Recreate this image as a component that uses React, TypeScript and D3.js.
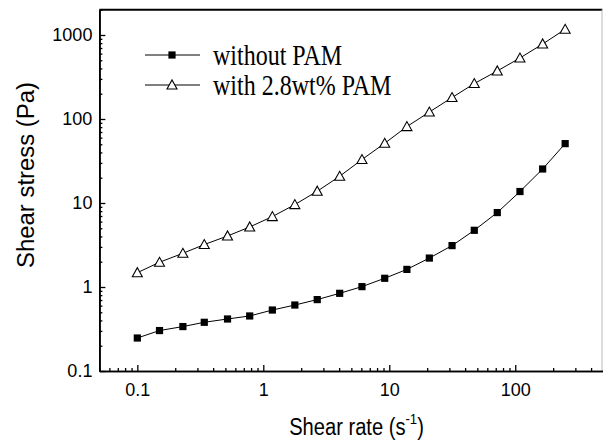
import { useEffect, useRef } from 'react';
import * as d3 from 'd3';

// data
const shearRate = [0.1, 0.15, 0.23, 0.34, 0.52, 0.78, 1.18, 1.78, 2.68, 4.04, 6.07, 9.2, 13.8, 20.8, 31.5, 47.3, 72, 109, 165, 249];
const withoutPAM = [0.247, 0.303, 0.338, 0.38, 0.416, 0.452, 0.532, 0.61, 0.708, 0.841, 1.01, 1.27, 1.62, 2.21, 3.11, 4.73, 7.69, 13.7, 25.4, 50.9];
const withPAM = [1.48, 1.97, 2.52, 3.2, 4.05, 5.18, 6.89, 9.57, 13.8, 20.8, 32.9, 51.4, 81.2, 121, 180, 264, 373, 532, 781, 1169];

const xMajor = [0.1, 1, 10, 100];
const yMajor = [0.1, 1, 10, 100, 1000];
const legendLabels = ['without PAM', 'with 2.8wt% PAM'];

function App() {
  const width = 603;
  const height = 441;
  const left = 99.4;
  const right = 603.3;
  const top = 9.7;
  const bottom = 371;

  const svgRef = useRef<SVGSVGElement>(null);

  const x = d3.scaleLog().domain([0.05, 500]).range([left, right]);
  const y = d3.scaleLog().domain([0.1, 2000]).range([bottom, top]);

  useEffect(() => {
    const svg = d3.select(svgRef.current);
    svg.selectAll('.ax').remove();

    const xMinor = x.ticks().filter((t) => !xMajor.some((m) => Math.abs(m - t) < 1e-9));
    const yMinor = y.ticks().filter((t) => !yMajor.some((m) => Math.abs(m - t) < 1e-9));

    const fmt = (d: any) => String(d);

    svg.append('g').attr('class', 'ax').attr('transform', `translate(0,${bottom})`)
      .call(d3.axisBottom(x).tickValues(xMinor).tickSize(-3).tickSizeOuter(0).tickFormat(() => ''));
    svg.append('g').attr('class', 'ax').attr('transform', `translate(0,${bottom})`)
      .call(d3.axisBottom(x).tickValues(xMajor).tickSize(-6).tickSizeOuter(0).tickPadding(12).tickFormat(fmt));

    svg.append('g').attr('class', 'ax').attr('transform', `translate(${left},0)`)
      .call(d3.axisLeft(y).tickValues(yMinor).tickSize(-3).tickSizeOuter(0).tickFormat(() => ''));
    svg.append('g').attr('class', 'ax').attr('transform', `translate(${left},0)`)
      .call(d3.axisLeft(y).tickValues(yMajor).tickSize(-6).tickSizeOuter(0).tickPadding(7).tickFormat(fmt));

    svg.selectAll('.ax text')
      .attr('font-family', 'Liberation Sans, Arial, sans-serif')
      .attr('font-size', 18)
      .attr('fill', '#000');
    svg.selectAll('.ax path.domain').attr('stroke', '#000').attr('stroke-width', 1.6);
    svg.selectAll('.ax line').attr('stroke', '#000').attr('stroke-width', 1.3);
  }, []);

  const line = d3.line<number>()
    .x((_, i) => x(shearRate[i]))
    .y((d) => y(d));

  const tri = (cx: number, cy: number) =>
    `M${cx - 5},${cy + 4}L${cx + 5},${cy + 4}L${cx},${cy - 5}Z`;

  return (
    <svg ref={svgRef} width={width} height={height}
      style={{ position: 'absolute', left: 0, top: 0, background: '#fff' }}>
      <line x1={left} x2={right - 1} y1={top} y2={top} stroke="#000" strokeWidth={2} />
      <line x1={602} x2={602} y1={top} y2={bottom} stroke="#bbb" strokeWidth={1} />

      <path d={line(withoutPAM) || ''} fill="none" stroke="#000" strokeWidth={1} />
      <path d={line(withPAM) || ''} fill="none" stroke="#000" strokeWidth={1} />

      {withoutPAM.map((v, i) => (
        <rect key={'s' + i} x={x(shearRate[i]) - 3.6} y={y(v) - 3.6} width={7.2} height={7.2} fill="#000" />
      ))}
      {withPAM.map((v, i) => (
        <path key={'t' + i} d={tri(x(shearRate[i]), y(v))} fill="#fff" stroke="#000" strokeWidth={1.1} />
      ))}

      {/* legend */}
      <line x1={145} x2={200} y1={55} y2={55} stroke="#000" strokeWidth={1} />
      <rect x={168.4} y={51.4} width={7.2} height={7.2} fill="#000" />
      <line x1={145} x2={200} y1={85} y2={85} stroke="#000" strokeWidth={1} />
      <path d={tri(172, 85)} fill="#fff" stroke="#000" strokeWidth={1.1} />
      <text transform="translate(213,65) scale(1,1.22)" fontFamily="Liberation Serif, Times New Roman, serif" fontSize={24}>{legendLabels[0]}</text>
      <text transform="translate(213,95) scale(1,1.22)" fontFamily="Liberation Serif, Times New Roman, serif" fontSize={24}>{legendLabels[1]}</text>

      {/* axis titles */}
      <text transform="translate(33.5,175) rotate(-90)" textAnchor="middle"
        fontFamily="Liberation Sans, Arial, sans-serif" fontSize={23}
        textLength={186} lengthAdjust="spacingAndGlyphs">Shear stress (Pa)</text>
      <g transform="translate(356.5,435) scale(0.875,1)">
        <text textAnchor="middle" fontFamily="Liberation Sans, Arial, sans-serif" fontSize={23}>
          Shear rate (s<tspan fontSize={15} dy={-11}>-1</tspan><tspan dy={11}>)</tspan>
        </text>
      </g>
    </svg>
  );
}

export default App;
